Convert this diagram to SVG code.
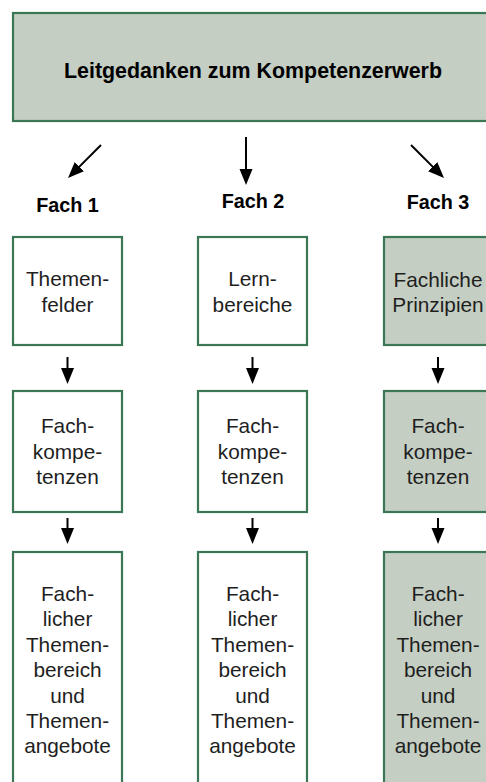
<svg xmlns="http://www.w3.org/2000/svg" width="486" height="782" viewBox="0 0 486 782">
<defs>
<style>
.box{stroke:#3b7754;stroke-width:2.2;}
.w{fill:#ffffff;}
.g{fill:#c4cec3;}
.t{font-family:"Liberation Sans",Arial,sans-serif;font-size:20.8px;fill:#1e1e1e;text-anchor:middle;}
.b{font-family:"Liberation Sans",Arial,sans-serif;font-weight:bold;fill:#000;text-anchor:middle;}
.c{stroke:#000;stroke-width:2;fill:none;marker-end:url(#ah);}
</style>
<marker id="ah" markerUnits="userSpaceOnUse" markerWidth="16" markerHeight="14" refX="2" refY="6.5" orient="auto">
<path d="M0,0 L16,6.5 L0,13 z" fill="#000"/>
</marker>
</defs>
<rect width="486" height="782" fill="#fff"/>
<g id="top">
<rect class="box g" x="13" y="13" width="480" height="108"/>
<text class="b" x="253" y="77.5" font-size="21.4">Leitgedanken zum Kompetenzerwerb</text>
</g>
<g id="labels">
<text class="b" x="67.5" y="211.5" font-size="19.8">Fach 1</text>
<text class="b" x="253" y="208" font-size="19.8">Fach 2</text>
<text class="b" x="438" y="208.5" font-size="19.8">Fach 3</text>
</g>
<g id="f1r1">
<rect class="box w" x="13" y="237" width="109" height="108"/>
<text class="t" x="67.5" y="286">Themen-</text>
<text class="t" x="67.5" y="311.7">felder</text>
</g>
<g id="f2r1">
<rect class="box w" x="198" y="237" width="109" height="108"/>
<text class="t" x="252.5" y="286">Lern-</text>
<text class="t" x="252.5" y="311.7">bereiche</text>
</g>
<g id="f3r1">
<rect class="box g" x="384" y="237" width="109" height="108"/>
<text class="t" x="438" y="286.5">Fachliche</text>
<text class="t" x="438" y="311.7">Prinzipien</text>
</g>
<g id="f1r2">
<rect class="box w" x="13" y="391" width="109" height="121"/>
<text class="t" x="67.5" y="433.3">Fach-</text>
<text class="t" x="67.5" y="458.7">kompe-</text>
<text class="t" x="67.5" y="484">tenzen</text>
</g>
<g id="f2r2">
<rect class="box w" x="198" y="391" width="109" height="121"/>
<text class="t" x="252.5" y="433.3">Fach-</text>
<text class="t" x="252.5" y="458.7">kompe-</text>
<text class="t" x="252.5" y="484">tenzen</text>
</g>
<g id="f3r2">
<rect class="box g" x="384" y="391" width="109" height="121"/>
<text class="t" x="438" y="433.3">Fach-</text>
<text class="t" x="438" y="458.7">kompe-</text>
<text class="t" x="438" y="484">tenzen</text>
</g>
<g id="f1r3">
<rect class="box w" x="13" y="552" width="109" height="240"/>
<text class="t" x="67.5" y="600.7">Fach-</text>
<text class="t" x="67.5" y="626">licher</text>
<text class="t" x="67.5" y="651.5">Themen-</text>
<text class="t" x="67.5" y="677">bereich</text>
<text class="t" x="67.5" y="702.5">und</text>
<text class="t" x="67.5" y="728">Themen-</text>
<text class="t" x="67.5" y="753.3">angebote</text>
</g>
<g id="f2r3">
<rect class="box w" x="198" y="552" width="109" height="240"/>
<text class="t" x="252.5" y="600.7">Fach-</text>
<text class="t" x="252.5" y="626">licher</text>
<text class="t" x="252.5" y="651.5">Themen-</text>
<text class="t" x="252.5" y="677">bereich</text>
<text class="t" x="252.5" y="702.5">und</text>
<text class="t" x="252.5" y="728">Themen-</text>
<text class="t" x="252.5" y="753.3">angebote</text>
</g>
<g id="f3r3">
<rect class="box g" x="384" y="552" width="109" height="240"/>
<text class="t" x="438" y="600.7">Fach-</text>
<text class="t" x="438" y="626">licher</text>
<text class="t" x="438" y="651.5">Themen-</text>
<text class="t" x="438" y="677">bereich</text>
<text class="t" x="438" y="702.5">und</text>
<text class="t" x="438" y="728">Themen-</text>
<text class="t" x="438" y="753.3">angebote</text>
</g>
<g id="connectors">
<line class="c" x1="101" y1="145" x2="77.9" y2="168.1"/>
<line class="c" x1="246" y1="137" x2="246" y2="171"/>
<line class="c" x1="411" y1="145" x2="434.1" y2="168.1"/>
<line class="c" x1="67.5" y1="357" x2="67.5" y2="370"/>
<line class="c" x1="252.5" y1="357" x2="252.5" y2="370"/>
<line class="c" x1="438" y1="357" x2="438" y2="370"/>
<line class="c" x1="67.5" y1="518" x2="67.5" y2="530"/>
<line class="c" x1="252.5" y1="518" x2="252.5" y2="530"/>
<line class="c" x1="438" y1="518" x2="438" y2="530"/>
</g>
</svg>
